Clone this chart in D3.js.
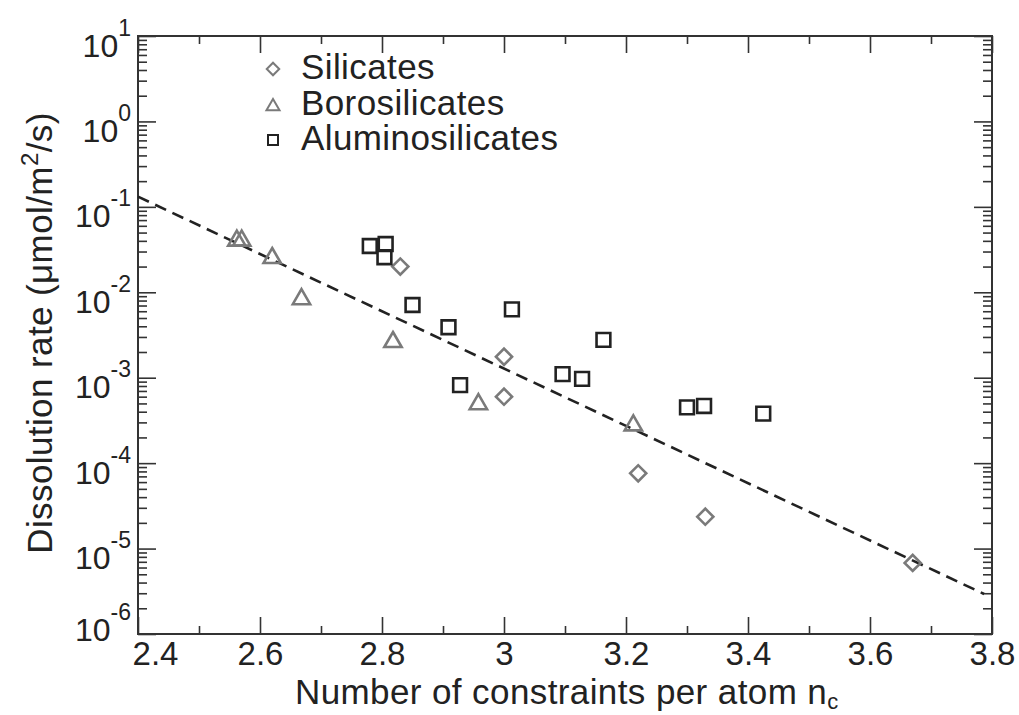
<!DOCTYPE html>
<html>
<head>
<meta charset="utf-8">
<script src="https://cdn.jsdelivr.net/npm/d3@7"></script>
<style>
  html, body { margin: 0; padding: 0; background: #fff; }
  svg { display: block; font-family: "Liberation Sans", Arial, Helvetica, sans-serif; }
</style>
</head>
<body>
<svg id="chart" width="1019" height="715"></svg>
<script>
// ---- data ----
const seriesNames = ["Silicates", "Borosilicates", "Aluminosilicates"];

const ncSilicates = [2.83, 3.00, 3.00, 3.22, 3.33, 3.67];
const rateSilicates = [2.0e-2, 1.76e-3, 6.0e-4, 7.6e-5, 2.36e-5, 6.8e-6];

const ncBorosilicates = [2.562, 2.570, 2.62, 2.668, 2.818, 2.958, 3.212];
const rateBorosilicates = [4.02e-2, 4.02e-2, 2.52e-2, 8.3e-3, 2.62e-3, 4.9e-4, 2.77e-4];

const ncAluminosilicates = [2.78, 2.806, 2.804, 2.85, 2.909, 3.013, 2.928, 3.163, 3.096, 3.128, 3.30, 3.328, 3.425];
const rateAluminosilicates = [3.48e-2, 3.67e-2, 2.57e-2, 7.1e-3, 3.9e-3, 6.3e-3, 8.2e-4, 2.77e-3, 1.1e-3, 9.7e-4, 4.5e-4, 4.67e-4, 3.8e-4];

const fitNc = [2.4, 3.787];
const fitRate = [1.315e-1, 2.94e-6];

const xMajorTicks = [2.4, 2.6, 2.8, 3.0, 3.2, 3.4, 3.6, 3.8];
const xMinorTicks = [2.5, 2.7, 2.9, 3.1, 3.3, 3.5, 3.7];
const yMajorExponents = [-6, -5, -4, -3, -2, -1, 0, 1];

// ---- layout ----
const svg = d3.select("#chart");
const L = 138, R = 992, T = 36, B = 634;
const x = d3.scaleLinear().domain([2.4, 3.8]).range([L, R]);
const y = d3.scaleLog().domain([1e-6, 10]).range([B, T]);

const textColor = "#222";
const axisColor = "#333";
const grey = "#7a7a7a";
const dark = "#222";

const yMajor = yMajorExponents.map(e => Math.pow(10, e));
const yMinor = [];
yMajorExponents.slice(0, -1).forEach(e => {
  for (let k = 2; k <= 9; k++) yMinor.push(k * Math.pow(10, e));
});

function styleAxis(g) {
  g.select(".domain").remove();
  g.selectAll("line").attr("stroke", axisColor).attr("stroke-width", 1.6);
}

// bottom axis
svg.append("g").attr("transform", `translate(0,${B})`)
  .call(d3.axisBottom(x).tickValues(xMajorTicks).tickSizeInner(-17).tickSizeOuter(0).tickPadding(8).tickFormat(d3.format("~g")))
  .call(styleAxis)
  .call(g => g.selectAll("text")
    .attr("fill", textColor).attr("font-size", 33)
    .attr("font-family", "Liberation Sans, Arial, sans-serif")
    .attr("dx", d => d === 2.4 ? 17 : 0));
svg.append("g").attr("transform", `translate(0,${B})`)
  .call(d3.axisBottom(x).tickValues(xMinorTicks).tickSizeInner(-8).tickSizeOuter(0).tickFormat(""))
  .call(styleAxis);
// top axis
svg.append("g").attr("transform", `translate(0,${T})`)
  .call(d3.axisTop(x).tickValues(xMajorTicks).tickSizeInner(-17).tickSizeOuter(0).tickFormat(""))
  .call(styleAxis);
svg.append("g").attr("transform", `translate(0,${T})`)
  .call(d3.axisTop(x).tickValues(xMinorTicks).tickSizeInner(-8).tickSizeOuter(0).tickFormat(""))
  .call(styleAxis);
// left axis
const leftAxis = svg.append("g").attr("transform", `translate(${L},0)`)
  .call(d3.axisLeft(y).tickValues(yMajor).tickSizeInner(-18).tickSizeOuter(0).tickFormat(""))
  .call(styleAxis);
svg.append("g").attr("transform", `translate(${L},0)`)
  .call(d3.axisLeft(y).tickValues(yMinor).tickSizeInner(-9).tickSizeOuter(0).tickFormat(""))
  .call(styleAxis);
// right axis
svg.append("g").attr("transform", `translate(${R},0)`)
  .call(d3.axisRight(y).tickValues(yMajor).tickSizeInner(-18).tickSizeOuter(0).tickFormat(""))
  .call(styleAxis);
svg.append("g").attr("transform", `translate(${R},0)`)
  .call(d3.axisRight(y).tickValues(yMinor).tickSizeInner(-9).tickSizeOuter(0).tickFormat(""))
  .call(styleAxis);

// y tick labels with superscripts
leftAxis.selectAll(".tick").each(function(d) {
  const e = Math.round(Math.log10(d));
  const t = d3.select(this).append("text")
    .attr("x", -7)
    .attr("y", e === -6 ? 6 : 20)
    .attr("text-anchor", "end")
    .attr("fill", textColor)
    .attr("font-size", 32)
    .attr("font-family", "Liberation Sans, Arial, sans-serif");
  t.append("tspan").text("10");
  t.append("tspan").attr("dy", -21).attr("font-size", 23).text(String(e));
});

// frame
svg.append("rect").attr("x", L).attr("y", T).attr("width", R - L).attr("height", B - T)
  .attr("fill", "none").attr("stroke", axisColor).attr("stroke-width", 2);

// fit line
const line = d3.line().x(d => x(d[0])).y(d => y(d[1]));
svg.append("path")
  .datum(fitNc.map((v, i) => [v, fitRate[i]]))
  .attr("d", line)
  .attr("fill", "none").attr("stroke", "#222").attr("stroke-width", 2.6)
  .attr("stroke-dasharray", "12,7");

// markers
const diamondPath = d3.symbol(d3.symbolSquare, 130)();
const trianglePath = d3.symbol(d3.symbolTriangle, 130)();
const squarePath = d3.symbol(d3.symbolSquare, 190)();

function drawSeries(xs, ys, path, color, rotate) {
  svg.append("g").selectAll("path")
    .data(xs.map((v, i) => [v, ys[i]]))
    .join("path")
    .attr("d", path)
    .attr("transform", d => `translate(${x(d[0])},${y(d[1])})` + (rotate ? " rotate(45)" : ""))
    .attr("fill", "none").attr("stroke", color).attr("stroke-width", 2.6);
}
drawSeries(ncSilicates, rateSilicates, diamondPath, grey, true);
drawSeries(ncBorosilicates, rateBorosilicates, trianglePath, grey, false);
drawSeries(ncAluminosilicates, rateAluminosilicates, squarePath, dark, false);

// legend
const legend = svg.append("g");
const legendItems = [
  { name: seriesNames[0], path: d3.symbol(d3.symbolSquare, 78)(), color: grey, rot: true },
  { name: seriesNames[1], path: d3.symbol(d3.symbolTriangle, 74)(), color: grey, rot: false },
  { name: seriesNames[2], path: d3.symbol(d3.symbolSquare, 100)(), color: dark, rot: false }
];
legendItems.forEach((it, i) => {
  const cy = 69 + i * 35.5;
  legend.append("path").attr("d", it.path)
    .attr("transform", `translate(273,${cy + (i === 1 ? 2 : 0)})` + (it.rot ? " rotate(45)" : ""))
    .attr("fill", "none").attr("stroke", it.color).attr("stroke-width", 2);
  legend.append("text").attr("x", 301).attr("y", cy + 10)
    .attr("fill", textColor).attr("font-size", 35).attr("letter-spacing", 0.4).text(it.name);
});

// axis titles
const xt = svg.append("text").attr("x", 295).attr("y", 704)
  .attr("fill", textColor).attr("font-size", 35).attr("letter-spacing", 0.4);
xt.append("tspan").text("Number of constraints per atom n");
xt.append("tspan").attr("dy", 5).attr("font-size", 22).text("c");

const yt = svg.append("text").attr("transform", "translate(52,333) rotate(-90)")
  .attr("text-anchor", "middle").attr("fill", textColor).attr("font-size", 35).attr("letter-spacing", 0.4);
yt.append("tspan").text("Dissolution rate (μmol/m");
yt.append("tspan").attr("dy", -14).attr("font-size", 24).text("2");
yt.append("tspan").attr("dy", 14).text("/s)");
</script>
</body>
</html>
